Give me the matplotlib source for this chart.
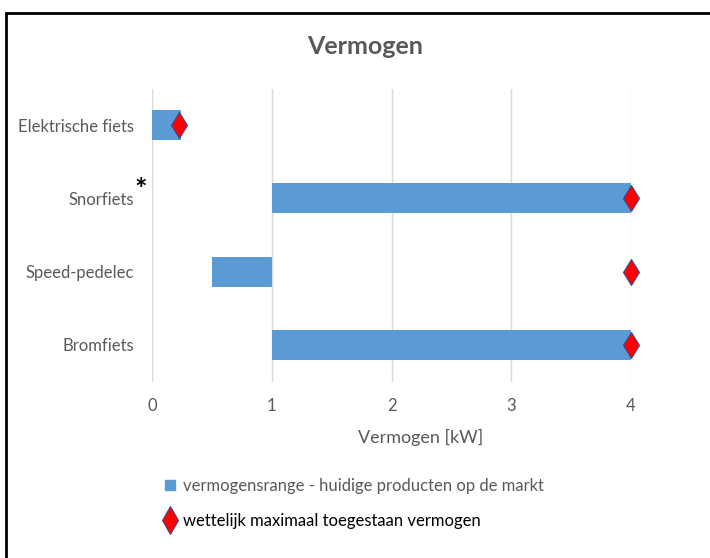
import matplotlib.pyplot as plt
from matplotlib.lines import Line2D
from matplotlib.patches import Rectangle

plt.rcParams['font.family'] = ['Lato', 'DejaVu Sans']

# data
categories = ['Elektrische fiets', 'Snorfiets', 'Speed-pedelec', 'Bromfiets']
range_low = [0.0, 1.0, 0.5, 1.0]
range_high = [0.24, 4.0, 1.0, 4.0]
legal_max = [0.225, 4.0, 4.0, 4.0]
xticks = [0, 1, 2, 3, 4]

bar_color = '#5B9BD5'
grey = '#595959'

fig = plt.figure(figsize=(7.1, 5.58), dpi=100)
ax = fig.add_axes([152 / 710, 1 - 381.5 / 558, 479 / 710, 293 / 558])

ypos = list(range(len(categories)))
widths = [h - l for l, h in zip(range_low, range_high)]
ax.barh(ypos, widths, left=range_low, height=0.41, color=bar_color, zorder=2)
ax.plot(legal_max, ypos, linestyle='none', marker='d', markersize=13.5,
        markerfacecolor='red', markeredgecolor='#3F4A8A', markeredgewidth=0.8,
        zorder=3, clip_on=False)

ax.set_xlim(0, 4)
ax.set_ylim(len(categories) - 0.5, -0.5)
ax.set_xticks(xticks)
ax.set_yticks(ypos)
ax.set_yticklabels(categories)
ax.grid(axis='x', color='#D9D9D9', linewidth=1, zorder=0)
for s in ax.spines.values():
    s.set_visible(False)
ax.tick_params(axis='both', length=0, labelsize=12, labelcolor=grey)
ax.tick_params(axis='x', pad=12)
ax.tick_params(axis='y', pad=13)
ax.set_xlabel('Vermogen [kW]', fontsize=13, color=grey)
ax.xaxis.set_label_coords((421 - 152) / 479, -(437 - 381.5) / 293)
ax.xaxis.label.set_va('center')

fig.text(365 / 710, 1 - 47 / 558, 'Vermogen', ha='center', va='center',
         fontsize=18, fontweight='bold', color=grey)
fig.text(141 / 710, 1 - 190 / 558, '*', ha='center', va='center',
         fontsize=21, fontweight='bold', color='black')

# legend
handles = [
    Line2D([], [], linestyle='none', marker='s', markersize=6.5,
           markerfacecolor=bar_color, markeredgecolor=bar_color),
    Line2D([], [], linestyle='none', marker='d', markersize=14,
           markerfacecolor='red', markeredgecolor='#3F4A8A', markeredgewidth=0.8),
]
labels = ['vermogensrange - huidige producten op de markt',
          'wettelijk maximaal toegestaan vermogen']
leg = fig.legend(handles, labels, loc='upper left',
                 bbox_to_anchor=(147 / 710, 1 - 463 / 558), frameon=False,
                 fontsize=12, handlelength=1.0, handletextpad=0.25,
                 labelspacing=1.15)
leg.get_texts()[0].set_color(grey)
leg.get_texts()[1].set_color('black')

# outer frame
fig.patches.append(Rectangle((6 / 710, -0.05), 1.1, 1 - 12.5 / 558 + 0.05,
                             transform=fig.transFigure, fill=False,
                             edgecolor='black', linewidth=2))

fig.savefig('out.png', dpi=100)
